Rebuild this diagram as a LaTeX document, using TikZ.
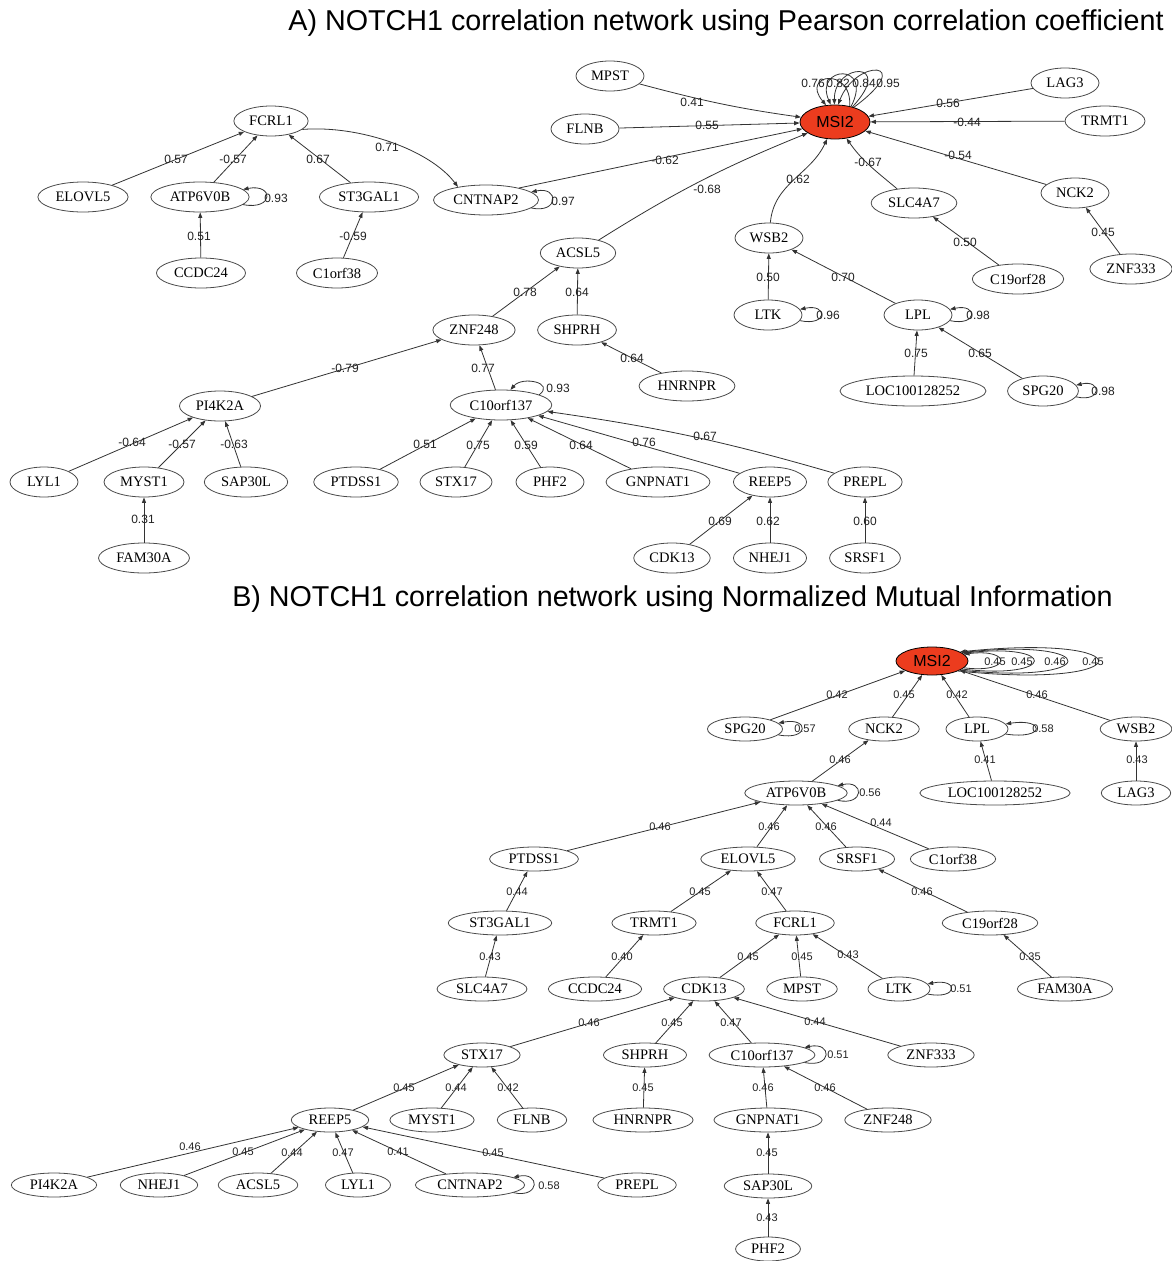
\documentclass[tikz,border=0pt]{standalone}
\usepackage{fontspec}
\setmainfont{Liberation Serif}
\newfontfamily\labfont{Liberation Sans}
\usetikzlibrary{arrows.meta,shapes.geometric}
\definecolor{edgegray}{HTML}{333333}
\definecolor{nodegray}{HTML}{4A4A4A}
\definecolor{hubred}{HTML}{EC3C1E}
\definecolor{labgray}{HTML}{222222}

% self-loop on the right side of a gene: style, node, reach, label position, label text
\newcommand\rloop[5]{%
  \draw[e] (#2.-10) .. controls +(#3,6) and +(#3,-6) .. (#2.10)
    node[#1] at (#4) {#5};}

\begin{document}
\begin{tikzpicture}[x=1pt,y=-1pt,
  e/.style={draw=edgegray, line width=0.8pt, -{Triangle[length=5.5pt,width=4pt]}},
  gene/.style={ellipse, draw=nodegray, line width=0.8pt, fill=white, text=black,
    font=\fontsize{14.5}{14.5}\selectfont, inner xsep=4.5pt, inner ysep=1pt,
    minimum height=30pt, minimum width=68pt},
  geneb/.style={gene, minimum height=24pt, minimum width=62pt, inner xsep=6pt},
  hub/.style={gene, fill=hubred, draw=black, font=\labfont\fontsize{16}{16}\selectfont,
    minimum width=70pt, minimum height=34pt},
  lbl/.style={font=\labfont\fontsize{12}{12}\selectfont, inner sep=0pt, text=labgray},
  lblb/.style={lbl, font=\labfont\fontsize{11}{11}\selectfont},
  title/.style={font=\labfont\fontsize{28.7}{28.7}\selectfont, anchor=base, inner sep=0pt},
]
\fill[white] (0,0) rectangle (1171,1261);
\useasboundingbox (0,0) rectangle (1171,1261);

% ---------------- Panel A: Pearson ----------------
\node[title] (titleA) at (726,30) {A) NOTCH1 correlation network using Pearson correlation coefficient};

\node[hub] (MSI2a) at (835,122) {MSI2};
\node[gene] (MPSTa) at (610,76) {MPST};
\node[gene] (FLNBa) at (585,129) {FLNB};
\node[gene] (LAG3a) at (1065,83) {LAG3};
\node[gene] (TRMT1a) at (1105,121) {TRMT1};
\node[gene] (NCK2a) at (1075,193) {NCK2};
\node[gene] (ZNF333a) at (1131,269) {ZNF333};
\node[gene] (SLC4A7a) at (914,203) {SLC4A7};
\node[gene] (C19orf28a) at (1018,279) {C19orf28};
\node[gene] (WSB2a) at (769,238) {WSB2};
\node[gene] (LTKa) at (768,315) {LTK};
\node[gene] (LPLa) at (918,315) {LPL};
\node[gene] (LOCa) at (913,391) {LOC100128252};
\node[gene] (SPG20a) at (1043,391) {SPG20};
\node[gene] (CNTNAP2a) at (486,200) {CNTNAP2};
\node[gene] (ACSL5a) at (578,253) {ACSL5};
\node[gene] (SHPRHa) at (577,330) {SHPRH};
\node[gene] (HNRNPRa) at (687,386) {HNRNPR};
\node[gene] (ZNF248a) at (474,330) {ZNF248};
\node[gene] (PI4K2Aa) at (220,406) {PI4K2A};
\node[gene] (C10orf137a) at (501,405) {C10orf137};
\node[gene] (FCRL1a) at (271,121) {FCRL1};
\node[gene] (ELOVL5a) at (83,197) {ELOVL5};
\node[gene] (ATP6V0Ba) at (200,197) {ATP6V0B};
\node[gene] (ST3GAL1a) at (369,197) {ST3GAL1};
\node[gene] (CCDC24a) at (201,273) {CCDC24};
\node[gene] (C1orf38a) at (337,273) {C1orf38};
\node[gene] (LYL1a) at (44,482) {LYL1};
\node[gene] (MYST1a) at (144,482) {MYST1};
\node[gene] (SAP30La) at (246,482) {SAP30L};
\node[gene] (FAM30Aa) at (144,558) {FAM30A};
\node[gene] (PTDSS1a) at (356,482) {PTDSS1};
\node[gene] (STX17a) at (456,482) {STX17};
\node[gene] (PHF2a) at (550,482) {PHF2};
\node[gene] (GNPNAT1a) at (658,482) {GNPNAT1};
\node[gene] (REEP5a) at (770,482) {REEP5};
\node[gene] (PREPLa) at (865,482) {PREPL};
\node[gene] (CDK13a) at (672,558) {CDK13};
\node[gene] (NHEJ1a) at (770,558) {NHEJ1};
\node[gene] (SRSF1a) at (865,558) {SRSF1};

% edges into MSI2
\draw[e] (MPSTa) to[out=-15,in=172] (MSI2a) node[lbl] at (692,102) {0.41};
\draw[e] (FLNBa) -- (MSI2a) node[lbl] at (707,125) {0.55};
\draw[e] (CNTNAP2a.20) -- (MSI2a) node[lbl] at (665,160) {-0.62};
\draw[e] (ACSL5a) to[bend left=5] (MSI2a) node[lbl] at (707,189) {-0.68};
\draw[e] (WSB2a) to[out=85,in=-115] (MSI2a) node[lbl] at (798,179) {0.62};
\draw[e] (SLC4A7a) to[out=140,in=-55] (MSI2a) node[lbl] at (868,162) {-0.67};
\draw[e] (NCK2a) -- (MSI2a) node[lbl] at (958,155) {-0.54};
\draw[e] (TRMT1a) -- (MSI2a) node[lbl] at (967,122) {-0.44};
\draw[e] (LAG3a) -- (MSI2a) node[lbl] at (948,103) {0.56};
% MSI2 self-loops
\draw[e] (MSI2a.47) .. controls (852,66) and (800,74) .. (MSI2a.118) node[lbl] at (813,83) {0.76};
\draw[e] (MSI2a.44) .. controls (874,62) and (814,66) .. (MSI2a.104) node[lbl] at (838,83) {0.82};
\draw[e] (MSI2a.41) .. controls (896,60) and (834,62) .. (MSI2a.92) node[lbl] at (864,83) {0.84};
\draw[e] (MSI2a.38) .. controls (918,60) and (856,58) .. (MSI2a.80) node[lbl] at (888,83) {0.95};

% FCRL1 cluster
\draw[e] (ELOVL5a) -- (FCRL1a) node[lbl] at (176,159) {0.57};
\draw[e] (ATP6V0Ba) -- (FCRL1a) node[lbl] at (233,159) {-0.57};
\draw[e] (ST3GAL1a) -- (FCRL1a) node[lbl] at (318,159) {0.67};
\draw[e] (FCRL1a.-15) .. controls (360,125) and (430,150) .. (CNTNAP2a.155) node[lbl] at (387,147) {0.71};
\draw[e] (CCDC24a) -- (ATP6V0Ba) node[lbl] at (199,236) {0.51};
\draw[e] (C1orf38a) -- (ST3GAL1a) node[lbl] at (353,236) {-0.59};
\rloop{lbl}{ATP6V0Ba}{31}{276,198}{0.93}
\rloop{lbl}{CNTNAP2a}{28}{563,201}{0.97}

% ACSL5 / WSB2 / SLC4A7 / NCK2 branches
\draw[e] (ZNF248a) -- (ACSL5a) node[lbl] at (525,292) {0.78};
\draw[e] (SHPRHa) -- (ACSL5a) node[lbl] at (577,292) {0.64};
\draw[e] (HNRNPRa) -- (SHPRHa) node[lbl] at (632,358) {0.64};
\draw[e] (LTKa) -- (WSB2a) node[lbl] at (768,277) {0.50};
\draw[e] (LPLa) -- (WSB2a) node[lbl] at (843,277) {0.70};
\rloop{lbl}{LTKa}{28}{828,315}{0.96}
\rloop{lbl}{LPLa}{28}{978,315}{0.98}
\draw[e] (LOCa) -- (LPLa) node[lbl] at (916,353) {0.75};
\draw[e] (SPG20a) -- (LPLa) node[lbl] at (980,353) {0.65};
\rloop{lbl}{SPG20a}{26}{1103,391}{0.98}
\draw[e] (C19orf28a) -- (SLC4A7a) node[lbl] at (965,242) {0.50};
\draw[e] (ZNF333a) -- (NCK2a) node[lbl] at (1103,232) {0.45};

% ZNF248 subtree
\draw[e] (PI4K2Aa) -- (ZNF248a) node[lbl] at (345,368) {-0.79};
\draw[e] (C10orf137a) -- (ZNF248a) node[lbl] at (483,368) {0.77};
\draw[e] (C10orf137a.15) .. controls +(16,-12) and +(12,-14) .. (C10orf137a.58) node[lbl] at (558,388) {0.93};
\draw[e] (LYL1a) -- (PI4K2Aa) node[lbl] at (132,442) {-0.64};
\draw[e] (MYST1a) -- (PI4K2Aa) node[lbl] at (182,444) {-0.57};
\draw[e] (SAP30La) -- (PI4K2Aa) node[lbl] at (234,444) {-0.63};
\draw[e] (FAM30Aa) -- (MYST1a) node[lbl] at (143,519) {0.31};
\draw[e] (PTDSS1a) -- (C10orf137a) node[lbl] at (425,444) {0.51};
\draw[e] (STX17a) -- (C10orf137a) node[lbl] at (478,445) {0.75};
\draw[e] (PHF2a) -- (C10orf137a) node[lbl] at (526,445) {0.59};
\draw[e] (GNPNAT1a) -- (C10orf137a) node[lbl] at (581,445) {0.64};
\draw[e] (REEP5a) -- (C10orf137a) node[lbl] at (644,442) {0.76};
\draw[e] (PREPLa) to[bend right=4] (C10orf137a) node[lbl] at (705,436) {0.67};
\draw[e] (CDK13a) -- (REEP5a) node[lbl] at (720,521) {0.69};
\draw[e] (NHEJ1a) -- (REEP5a) node[lbl] at (768,521) {0.62};
\draw[e] (SRSF1a) -- (PREPLa) node[lbl] at (865,521) {0.60};

% ---------------- Panel B: normalized mutual information ----------------
\node[title] (titleB) at (672.5,606.5) {B) NOTCH1 correlation network using Normalized Mutual Information};

\node[hub, minimum width=72pt, minimum height=28pt] (MSI2b) at (932,661) {MSI2};
\node[geneb] (SPG20b) at (745,729) {SPG20};
\node[geneb] (NCK2b) at (884,729) {NCK2};
\node[geneb] (LPLb) at (977,729) {LPL};
\node[geneb] (WSB2b) at (1136,729) {WSB2};
\node[geneb] (ATP6V0Bb) at (796,793) {ATP6V0B};
\node[geneb] (LOCb) at (995,793) {LOC100128252};
\node[geneb] (LAG3b) at (1136,793) {LAG3};
\node[geneb] (PTDSS1b) at (534,859) {PTDSS1};
\node[geneb] (ELOVL5b) at (748,859) {ELOVL5};
\node[geneb] (SRSF1b) at (857,859) {SRSF1};
\node[geneb] (C1orf38b) at (953,859) {C1orf38};
\node[geneb] (ST3GAL1b) at (500,923) {ST3GAL1};
\node[geneb] (TRMT1b) at (654,923) {TRMT1};
\node[geneb] (FCRL1b) at (795,923) {FCRL1};
\node[geneb] (C19orf28b) at (990,923) {C19orf28};
\node[geneb] (SLC4A7b) at (482,989) {SLC4A7};
\node[geneb] (CCDC24b) at (595,989) {CCDC24};
\node[geneb] (CDK13b) at (704,989) {CDK13};
\node[geneb] (MPSTb) at (802,989) {MPST};
\node[geneb] (LTKb) at (899,989) {LTK};
\node[geneb] (FAM30Ab) at (1065,989) {FAM30A};
\node[geneb] (STX17b) at (482,1055) {STX17};
\node[geneb] (SHPRHb) at (645,1055) {SHPRH};
\node[geneb] (C10orf137b) at (762,1055) {C10orf137};
\node[geneb] (ZNF333b) at (931,1055) {ZNF333};
\node[geneb] (REEP5b) at (330,1120) {REEP5};
\node[geneb] (MYST1b) at (432,1120) {MYST1};
\node[geneb] (FLNBb) at (532,1120) {FLNB};
\node[geneb] (HNRNPRb) at (643,1120) {HNRNPR};
\node[geneb] (GNPNAT1b) at (768,1120) {GNPNAT1};
\node[geneb] (ZNF248b) at (888,1120) {ZNF248};
\node[geneb] (PI4K2Ab) at (54,1185) {PI4K2A};
\node[geneb] (NHEJ1b) at (159,1185) {NHEJ1};
\node[geneb] (ACSL5b) at (258,1185) {ACSL5};
\node[geneb] (LYL1b) at (358,1185) {LYL1};
\node[geneb] (CNTNAP2b) at (470,1185) {CNTNAP2};
\node[geneb] (PREPLb) at (637,1185) {PREPL};
\node[geneb] (SAP30Lb) at (768,1186) {SAP30L};
\node[geneb] (PHF2b) at (768,1249) {PHF2};

% edges into MSI2
\draw[e] (SPG20b) -- (MSI2b) node[lblb] at (837,695) {0.42};
\draw[e] (NCK2b) -- (MSI2b) node[lblb] at (904,695) {0.45};
\draw[e] (LPLb) -- (MSI2b) node[lblb] at (957,695) {0.42};
\draw[e] (WSB2b) -- (MSI2b) node[lblb] at (1037,695) {0.46};
% MSI2 self-loops
\draw[e] (MSI2b.-12) .. controls +(48,6) and +(48,-6) .. (MSI2b.12) node[lblb] at (995,662) {0.45};
\draw[e] (MSI2b.-15) .. controls +(95,11) and +(95,-11) .. (MSI2b.14) node[lblb] at (1022,662) {0.45};
\draw[e] (MSI2b.-18) .. controls +(142,15) and +(142,-15) .. (MSI2b.16) node[lblb] at (1055,662) {0.46};
\draw[e] (MSI2b.-21) .. controls +(185,19) and +(185,-19) .. (MSI2b.18) node[lblb] at (1093,662) {0.45};
\rloop{lblb}{SPG20b}{31}{805,729}{0.57}
\rloop{lblb}{LPLb}{40}{1043,729}{0.58}

\draw[e] (ATP6V0Bb) -- (NCK2b) node[lblb] at (840,760) {0.46};
\rloop{lblb}{ATP6V0Bb}{27}{870,793}{0.56}
\draw[e] (LOCb) -- (LPLb) node[lblb] at (985,760) {0.41};
\draw[e] (LAG3b) -- (WSB2b) node[lblb] at (1137,760) {0.43};

\draw[e] (PTDSS1b) -- (ATP6V0Bb) node[lblb] at (660,827) {0.46};
\draw[e] (ELOVL5b) -- (ATP6V0Bb) node[lblb] at (769,827) {0.46};
\draw[e] (SRSF1b) -- (ATP6V0Bb) node[lblb] at (826,827) {0.46};
\draw[e] (C1orf38b) -- (ATP6V0Bb) node[lblb] at (881,823) {0.44};

\draw[e] (ST3GAL1b) -- (PTDSS1b) node[lblb] at (517,892) {0.44};
\draw[e] (TRMT1b) -- (ELOVL5b) node[lblb] at (700,892) {0.45};
\draw[e] (FCRL1b) -- (ELOVL5b) node[lblb] at (772,892) {0.47};
\draw[e] (C19orf28b) -- (SRSF1b) node[lblb] at (922,892) {0.46};

\draw[e] (SLC4A7b) -- (ST3GAL1b) node[lblb] at (490,957) {0.43};
\draw[e] (CCDC24b) -- (TRMT1b) node[lblb] at (622,957) {0.40};
\draw[e] (CDK13b) -- (FCRL1b) node[lblb] at (748,957) {0.45};
\draw[e] (MPSTb) -- (FCRL1b) node[lblb] at (802,957) {0.45};
\draw[e] (LTKb) -- (FCRL1b) node[lblb] at (848,955) {0.43};
\draw[e] (FAM30Ab) -- (C19orf28b) node[lblb] at (1030,957) {0.35};
\rloop{lblb}{LTKb}{31}{961,989}{0.51}

\draw[e] (STX17b) -- (CDK13b) node[lblb] at (589,1023) {0.46};
\draw[e] (SHPRHb) -- (CDK13b) node[lblb] at (672,1023) {0.45};
\draw[e] (C10orf137b) -- (CDK13b) node[lblb] at (731,1023) {0.47};
\draw[e] (ZNF333b) -- (CDK13b) node[lblb] at (815,1022) {0.44};
\rloop{lblb}{C10orf137b}{28}{838,1055}{0.51}

\draw[e] (REEP5b) -- (STX17b) node[lblb] at (404,1088) {0.45};
\draw[e] (MYST1b) -- (STX17b) node[lblb] at (456,1088) {0.44};
\draw[e] (FLNBb) -- (STX17b) node[lblb] at (508,1088) {0.42};
\draw[e] (HNRNPRb) -- (SHPRHb) node[lblb] at (643,1088) {0.45};
\draw[e] (GNPNAT1b) -- (C10orf137b) node[lblb] at (763,1088) {0.46};
\draw[e] (ZNF248b) -- (C10orf137b) node[lblb] at (825,1088) {0.46};

\draw[e] (PI4K2Ab) -- (REEP5b) node[lblb] at (190,1147) {0.46};
\draw[e] (NHEJ1b) -- (REEP5b) node[lblb] at (243,1152) {0.45};
\draw[e] (ACSL5b) -- (REEP5b) node[lblb] at (292,1153) {0.44};
\draw[e] (LYL1b) -- (REEP5b) node[lblb] at (343,1153) {0.47};
\draw[e] (CNTNAP2b) -- (REEP5b) node[lblb] at (398,1152) {0.41};
\draw[e] (PREPLb) -- (REEP5b) node[lblb] at (493,1153) {0.45};
\rloop{lblb}{CNTNAP2b}{27}{549,1186}{0.58}

\draw[e] (SAP30Lb) -- (GNPNAT1b) node[lblb] at (767,1153) {0.45};
\draw[e] (PHF2b) -- (SAP30Lb) node[lblb] at (767,1218) {0.43};
\end{tikzpicture}
\end{document}
